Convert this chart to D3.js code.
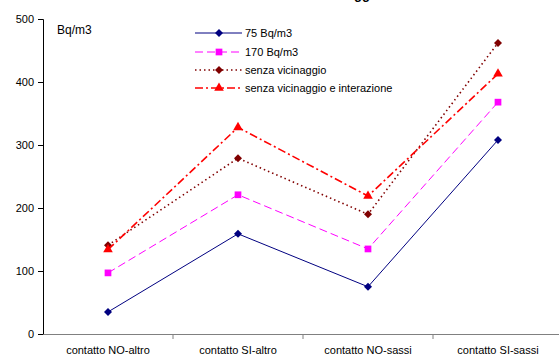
<!DOCTYPE html>
<html>
<head>
<meta charset="utf-8">
<script src="https://cdn.jsdelivr.net/npm/d3@7"></script>
<style>
  body { margin: 0; background: #fff; }
  svg { display: block; font-family: Arial, "Liberation Sans", sans-serif; }
</style>
</head>
<body>
<svg id="chart" width="559" height="358"></svg>
<script>
const categories = ["contatto NO-altro", "contatto SI-altro", "contatto NO-sassi", "contatto SI-sassi"];
const yTicks = [0, 100, 200, 300, 400, 500];

const v75 = [35, 159, 75, 308];
const v170 = [97, 221, 135, 368];
const senzaVic = [141, 279, 190, 462];
const senzaVicInt = [134, 328, 219, 413];

const series = [
  { name: "75 Bq/m3", values: v75, color: "#000080", dash: null, width: 1, marker: "diamond", size: 32 },
  { name: "170 Bq/m3", values: v170, color: "#FF00FF", dash: "8,4", width: 1, marker: "square", size: 45 },
  { name: "senza vicinaggio", values: senzaVic, color: "#800000", dash: "1.5,3", width: 1.6, marker: "diamond", size: 32 },
  { name: "senza vicinaggio e interazione", values: senzaVicInt, color: "#FF0000", dash: "8,3,2,3", width: 1.6, marker: "triangle", size: 40 }
];

const svg = d3.select("#chart");
const plotLeft = 43, plotRight = 563, plotTop = 19, plotBottom = 334;

const x = d3.scaleBand().domain(categories).range([plotLeft, plotRight]);
const y = d3.scaleLinear().domain([0, 500]).range([plotBottom, plotTop]);

// cut-off title
svg.append("text")
  .attr("x", 370).attr("y", -1)
  .attr("text-anchor", "end")
  .attr("font-size", 13).attr("font-weight", "bold")
  .text("Modello di vicinagg");
svg.append("text")
  .attr("x", 370).attr("y", -1)
  .attr("font-size", 13).attr("font-weight", "bold")
  .text("io");

// axes
const yAxis = svg.append("g")
  .attr("transform", `translate(${plotLeft},0)`)
  .call(d3.axisLeft(y).tickValues(yTicks).tickSize(5).tickPadding(4));
yAxis.select(".domain").attr("stroke", "#000");
yAxis.selectAll("text").attr("font-size", 11).attr("fill", "#000").attr("font-family", "Arial, 'Liberation Sans', sans-serif");

const xAxis = svg.append("g")
  .attr("transform", `translate(0,${plotBottom})`)
  .call(d3.axisBottom(x).tickSize(0).tickPadding(12));
xAxis.select(".domain").attr("stroke", "#808080");
xAxis.selectAll("text").attr("font-size", 11).attr("fill", "#000").attr("font-family", "Arial, 'Liberation Sans', sans-serif");

// category separators
svg.append("g").selectAll("line")
  .data(categories.slice(1))
  .enter().append("line")
  .attr("x1", d => x(d)).attr("x2", d => x(d))
  .attr("y1", plotBottom).attr("y2", plotBottom + 5)
  .attr("stroke", "#808080");

const cx = (d, i) => x(categories[i]) + x.bandwidth() / 2;

// diamonds are squares turned 45 degrees, like the original markers
const symbolOf = m => m === "triangle" ? d3.symbolTriangle : d3.symbolSquare;
const rot = m => m === "diamond" ? " rotate(45)" : "";

const line = d3.line().x(cx).y(d => y(d));

series.forEach(s => {
  svg.append("path")
    .datum(s.values)
    .attr("fill", "none")
    .attr("stroke", s.color)
    .attr("stroke-width", s.width)
    .attr("stroke-dasharray", s.dash)
    .attr("d", line);

  svg.append("g").selectAll("path")
    .data(s.values)
    .enter().append("path")
    .attr("transform", (d, i) => `translate(${cx(d, i)},${y(d)})` + rot(s.marker))
    .attr("d", d3.symbol().type(symbolOf(s.marker)).size(s.size))
    .attr("fill", s.color);
});

// y unit label
svg.append("text")
  .attr("x", 57).attr("y", 34)
  .attr("font-size", 12)
  .text("Bq/m3");

// legend
const legend = svg.append("g");
const rowY = [33, 52, 70, 88];
series.forEach((s, i) => {
  const g = legend.append("g").attr("transform", `translate(0,${rowY[i]})`);
  g.append("line")
    .attr("x1", 195).attr("x2", 242)
    .attr("stroke", s.color)
    .attr("stroke-width", s.width)
    .attr("stroke-dasharray", s.dash);
  g.append("path")
    .attr("transform", "translate(219,0)" + rot(s.marker))
    .attr("d", d3.symbol().type(symbolOf(s.marker)).size(s.size))
    .attr("fill", s.color);
  g.append("text")
    .attr("x", 245).attr("y", 4)
    .attr("font-size", 11)
    .text(s.name);
});
</script>
</body>
</html>
